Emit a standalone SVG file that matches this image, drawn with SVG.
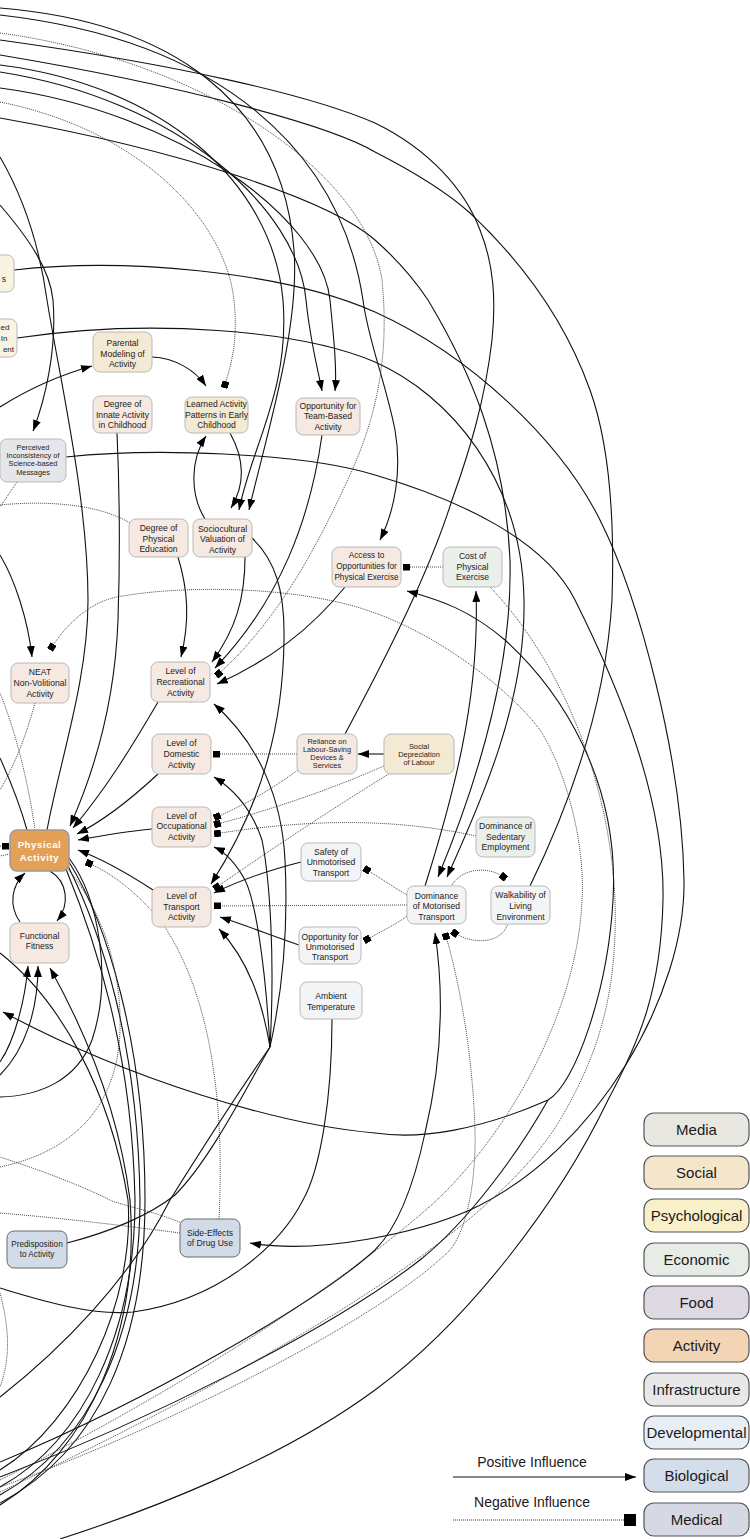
<svg xmlns="http://www.w3.org/2000/svg" width="750" height="1539" viewBox="0 0 750 1539">
<defs>
<marker id="ar" viewBox="0 0 11 8" refX="11" refY="4" markerWidth="11" markerHeight="8" markerUnits="userSpaceOnUse" orient="auto"><path d="M0,0 L11,4 L0,8 z" fill="#000"/></marker>
<marker id="arS" viewBox="0 0 11 8" refX="11" refY="4" markerWidth="11" markerHeight="8" markerUnits="userSpaceOnUse" orient="auto-start-reverse"><path d="M0,0 L11,4 L0,8 z" fill="#000"/></marker>
<marker id="sq" viewBox="0 0 7 7" refX="7" refY="3.5" markerWidth="7" markerHeight="7" markerUnits="userSpaceOnUse" orient="auto"><rect x="0" y="0" width="7" height="7" fill="#000"/></marker>
<style>
.p{fill:none;stroke:#111;stroke-width:1.1}
.d{fill:none;stroke:#333;stroke-width:0.9;stroke-dasharray:1 1}
.a{marker-end:url(#ar)}
.s{marker-end:url(#sq)}
.nd rect{stroke:#b9b9b9;stroke-width:1}
.nd text{font-family:"Liberation Sans",Arial,sans-serif;font-size:8.6px;fill:#222;text-anchor:middle}
.sm text{font-size:7.4px}
.soc{fill:#f4e9d2}.psy{fill:#f8f4e1}.act{fill:#f5e9e1}.med{fill:#e5e6ea}.eco{fill:#ebefea}.inf{fill:#f3f4f5}
.bio{fill:#d2dce8}
.lg rect{stroke:#555;stroke-width:1.2}
.lg text{font-family:"Liberation Sans",Arial,sans-serif;font-size:15px;fill:#1a1a1a;text-anchor:middle}
</style>
</defs>
<rect width="750" height="1539" fill="#fff"/>
<g id="connectors">
<path class="p a" d="M0,8 C170,22 282,100 294,250 C300,330 265,440 249,510"/>
<path class="p a" d="M0,65 C160,85 272,180 283,300 C290,390 252,445 239,510"/>
<path class="p a" d="M0,72 C180,100 298,210 306,300 C310,340 318,370 322,391"/>
<path class="p a" d="M0,88 C180,112 322,220 330,300 C334,340 337,370 335,391"/>
<path class="p" d="M0,40 C180,65 310,95 375,123 C430,150 465,190 480,230 C494,265 496,300 492,340 C485,400 470,450 452,500 C430,570 390,650 345,734"/>
<path class="p" d="M0,55 C180,85 330,125 375,152 C420,175 450,195 470,213 C520,260 565,320 590,390 C608,440 615,510 612,600 C606,700 572,800 530,886"/>
<path class="p a" d="M0,118 C180,150 330,200 375,240 C400,262 418,285 428,300 C470,370 505,450 510,560 C513,680 470,800 438,877"/>
<path class="p a" d="M17,338 C150,318 300,330 375,362 C450,395 522,480 524,600 C526,700 482,800 447,877"/>
<path class="p" d="M47,830 C60,760 88,680 88,600 C88,500 60,380 47,300 C40,250 25,200 0,157"/>
<path class="p a" d="M0,205 C30,240 50,270 53,300 C57,350 45,400 33,431"/>
<path class="p a" d="M14,270 C120,258 280,270 375,312 C470,355 560,440 600,520 C640,600 682,760 684,880 C686,990 600,1150 470,1210 C420,1232 320,1255 250,1243"/>
<path class="p" style="marker-start:url(#arS);marker-end:url(#ar)" d="M3,1012 C130,1080 280,1125 375,1133 C420,1140 480,1130 548,1100 C575,1085 608,990 613,900 C620,780 560,690 505,640 C470,610 440,600 407,591"/>
<path class="p" d="M66,457 C150,448 300,452 375,475 C460,500 545,540 575,600 C620,690 665,800 663,900 C661,990 640,1040 608,1100 C560,1200 470,1320 375,1390 C280,1460 150,1510 60,1539"/>
<path class="p a" d="M0,15 C220,40 340,150 363,300 C368,340 385,380 395,430 C402,470 395,510 380,540"/>
<path class="p a" d="M0,1462 C150,1400 320,1300 375,1250 C400,1225 415,1180 425,1133 C440,1070 445,1000 435,933"/>
<path class="p" d="M0,1477 C150,1420 330,1330 420,1260 C470,1220 520,1150 548,1100"/>
<path class="p a" d="M425,886 C452,800 480,700 476,591"/>
<path class="p" d="M67,1243 C110,1232 150,1215 175,1195 C210,1160 245,1090 270,1047"/>
<path class="p" d="M0,1397 C60,1350 130,1280 170,1200 C195,1160 240,1090 270,1047"/>
<path class="p a" d="M270,1047 C285,980 288,920 285,860 C282,800 260,745 214,704"/>
<path class="p a" d="M270,1047 C275,960 270,880 262,840 C252,810 235,790 214,777"/>
<path class="p a" d="M270,1047 C265,960 255,900 245,880 C235,862 225,852 214,847"/>
<path class="p a" d="M270,1047 C262,1000 248,960 219,929"/>
<path class="p a" d="M252,538 C275,560 285,590 284,640 C283,720 265,800 211,884"/>
<path class="p a" d="M245,557 C245,600 235,630 212,662"/>
<path class="p a" d="M322,435 C310,520 280,600 215,668"/>
<path class="p a" d="M345,587 C310,630 270,660 217,684"/>
<path class="p a" d="M178,557 C188,590 190,620 181,657"/>
<path class="p a" d="M152,357 C175,358 195,370 206,386"/>
<path class="p a" d="M0,407 C30,388 60,375 92,366"/>
<path class="p a" d="M230,433 C245,460 245,485 231,508"/>
<path class="p a" d="M205,519 C190,495 190,460 206,436"/>
<path class="p a" d="M117,433 C120,500 120,560 118,620 C115,700 95,770 70,826"/>
<path class="p a" d="M158,702 C130,750 105,790 73,828"/>
<path class="p a" d="M158,774 C130,800 105,820 77,834"/>
<path class="p a" d="M152,829 C130,831 105,835 78,840"/>
<path class="p a" d="M153,890 C130,875 105,860 78,850"/>
<path class="p a" d="M50,871 C68,882 70,905 57,921"/>
<path class="p a" d="M20,922 C8,905 12,885 25,873"/>
<path class="p a" d="M0,1062 C15,1040 25,1000 28,966"/>
<path class="p a" d="M0,1075 C25,1050 38,1010 38,966"/>
<path class="p a" d="M0,1505 C90,1450 140,1330 130,1200 C120,1120 90,1040 50,968"/>
<path class="p" d="M332,1019 C332,1100 320,1170 303,1200 C280,1245 220,1300 133,1312 C90,1316 40,1300 0,1288"/>
<path class="p a" d="M0,555 C15,580 28,620 32,657"/>
<path class="p" d="M27,830 C20,805 10,780 0,758"/>
<path class="p" d="M69,858 C100,900 112,980 92,1040 C77,1080 40,1096 0,1097"/>
<path class="p" d="M69,862 C105,920 145,1040 145,1200 C145,1340 100,1450 0,1503"/>
<path class="p" d="M68,866 C100,930 138,1040 140,1200 C140,1335 90,1445 0,1495"/>
<path class="p" d="M66,869 C95,940 132,1050 135,1200 C135,1330 85,1440 0,1487"/>
<path class="p" d="M0,953 C60,1000 110,1090 128,1200 C135,1300 80,1420 0,1470"/>
<path class="p a" d="M301,862 C270,870 240,880 214,893"/>
<path class="p a" d="M299,945 C270,935 245,925 220,917"/>
<path class="p a" d="M384,754 L358,754"/>
<path class="d s" d="M0,33 C200,60 365,170 382,280 C390,360 375,420 350,475 C320,540 280,620 216,676"/>
<path class="d s" d="M0,102 C140,130 225,220 234,300 C238,340 232,362 224,388"/>
<path class="d s" d="M443,567 L403,567"/>
<path class="d s" d="M297,754 L213,754"/>
<path class="d s" d="M298,770 C270,790 245,805 214,818"/>
<path class="d s" d="M386,765 C330,790 270,810 214,825"/>
<path class="d s" d="M476,836 C380,815 290,822 214,834"/>
<path class="d s" d="M392,772 C330,810 270,850 214,889"/>
<path class="d s" d="M407,905 L214,906"/>
<path class="d s" d="M407,895 C395,888 380,878 364,868"/>
<path class="d s" d="M407,916 C395,925 380,932 364,941"/>
<path class="d s" d="M452,885 C462,868 490,865 506,879"/>
<path class="d s" d="M508,923 C502,945 470,945 452,931"/>
<path class="d s" d="M0,1487 C160,1430 380,1320 450,1250 C470,1225 476,1170 475,1133 C474,1080 465,1000 445,933"/>
<path class="d s" d="M219,1219 C225,1100 210,990 160,920 C130,885 105,870 86,862"/>
<path class="d" d="M182,1223 C150,1210 120,1205 110,1200 C80,1185 40,1170 0,1157"/>
<path class="d" d="M180,1233 C120,1225 60,1218 0,1213"/>
<path class="d s" d="M0,1480 C200,1380 360,1270 437,1200 C520,1120 578,1000 582,900 C585,850 570,780 542,733 C520,700 450,640 375,613 C300,585 180,585 117,597 C90,602 65,625 50,650"/>
<path class="d" d="M35,703 C25,740 12,770 0,790"/>
<path class="d" d="M35,830 C28,780 15,730 0,693"/>
<path class="d s" d="M0,846 L9,846"/>
<path class="d" d="M10,854 L0,856"/>
<path class="d" d="M17,482 C10,492 5,500 0,507"/>
<path class="d" d="M130,523 C100,505 50,500 0,505"/>
<path class="d" d="M490,587 C560,660 610,780 615,900 C618,1000 595,1060 560,1120 C500,1220 320,1340 0,1492"/>
<path class="d" d="M67,868 C95,900 122,960 120,1030 C118,1100 80,1150 0,1167"/>
<path class="d" d="M0,1293 C10,1330 10,1360 0,1387"/>
</g>
<g id="n_s" class="nd"><rect class="psy" x="-20" y="255" width="34" height="37" rx="7"/><text x="6" y="282" style="text-anchor:end">s</text></g>
<g id="n_ed" class="nd"><rect class="psy" x="-40" y="319" width="57" height="38" rx="7"/><text style="text-anchor:end;font-size:8px"><tspan x="9.5" y="330">ed</tspan><tspan x="7.5" y="341">In</tspan><tspan x="14" y="352">ent</tspan></text></g>
<g id="n_parental" class="nd"><rect class="soc" x="93" y="332" width="59" height="40" rx="7"/><text><tspan x="122.5" y="346">Parental</tspan><tspan x="122.5" y="357">Modeling of</tspan><tspan x="122.5" y="367">Activity</tspan></text></g>
<g id="n_innate" class="nd"><rect class="act" x="93" y="396" width="59" height="37" rx="7"/><text><tspan x="122.5" y="407">Degree of</tspan><tspan x="122.5" y="418">Innate Activity</tspan><tspan x="122.5" y="428">in Childhood</tspan></text></g>
<g id="n_learned" class="nd"><rect class="soc" x="185" y="397" width="63" height="36" rx="7"/><text><tspan x="216.5" y="407">Learned Activity</tspan><tspan x="216.5" y="418">Patterns in Early</tspan><tspan x="216.5" y="428">Childhood</tspan></text></g>
<g id="n_team" class="nd"><rect class="act" x="296" y="398" width="64" height="37" rx="7"/><text><tspan x="328" y="409">Opportunity for</tspan><tspan x="328" y="419">Team-Based</tspan><tspan x="328" y="430">Activity</tspan></text></g>
<g id="n_perceived" class="nd sm"><rect class="med" x="0" y="439" width="66" height="43" rx="7"/><text><tspan x="33" y="450">Perceived</tspan><tspan x="33" y="458">Inconsistency of</tspan><tspan x="33" y="466">Science-based</tspan><tspan x="33" y="475">Messages</tspan></text></g>
<g id="n_pe" class="nd"><rect class="act" x="129" y="519" width="59" height="38" rx="7"/><text><tspan x="158.5" y="531">Degree of</tspan><tspan x="158.5" y="542">Physical</tspan><tspan x="158.5" y="552">Education</tspan></text></g>
<g id="n_socio" class="nd"><rect class="act" x="193" y="519" width="59" height="38" rx="7"/><text><tspan x="222.5" y="532">Sociocultural</tspan><tspan x="222.5" y="542">Valuation of</tspan><tspan x="222.5" y="553">Activity</tspan></text></g>
<g id="n_access" class="nd"><rect class="act" x="332" y="547" width="69" height="40" rx="7"/><text style="font-size:8.2px"><tspan x="366.5" y="558">Access to</tspan><tspan x="366.5" y="569">Opportunities for</tspan><tspan x="366.5" y="580">Physical Exercise</tspan></text></g>
<g id="n_cost" class="nd"><rect class="eco" x="443" y="547" width="59" height="40" rx="7"/><text><tspan x="472.5" y="559">Cost of</tspan><tspan x="472.5" y="570">Physical</tspan><tspan x="472.5" y="580">Exercise</tspan></text></g>
<g id="n_neat" class="nd"><rect class="act" x="11" y="663" width="58" height="40" rx="7"/><text><tspan x="40" y="675">NEAT</tspan><tspan x="40" y="686">Non-Volitional</tspan><tspan x="40" y="697">Activity</tspan></text></g>
<g id="n_recreational" class="nd"><rect class="act" x="151" y="662" width="59" height="40" rx="7"/><text><tspan x="180.5" y="674">Level of</tspan><tspan x="180.5" y="685">Recreational</tspan><tspan x="180.5" y="696">Activity</tspan></text></g>
<g id="n_domestic" class="nd"><rect class="act" x="152" y="734" width="59" height="40" rx="7"/><text><tspan x="181.5" y="746">Level of</tspan><tspan x="181.5" y="757">Domestic</tspan><tspan x="181.5" y="768">Activity</tspan></text></g>
<g id="n_reliance" class="nd sm"><rect class="act" x="297" y="734" width="60" height="40" rx="7"/><text><tspan x="327" y="744">Reliance on</tspan><tspan x="327" y="752">Labour-Saving</tspan><tspan x="327" y="760">Devices &amp;</tspan><tspan x="327" y="768">Services</tspan></text></g>
<g id="n_socdep" class="nd sm"><rect class="soc" x="384" y="734" width="70" height="40" rx="7"/><text><tspan x="419" y="749">Social</tspan><tspan x="419" y="757">Depreciation</tspan><tspan x="419" y="765">of Labour</tspan></text></g>
<g id="n_occupational" class="nd"><rect class="act" x="152" y="807" width="59" height="40" rx="7"/><text><tspan x="181.5" y="819">Level of</tspan><tspan x="181.5" y="829">Occupational</tspan><tspan x="181.5" y="840">Activity</tspan></text></g>
<g id="n_pa" class="nd"><rect x="10" y="830" width="59" height="41" rx="7" style="fill:#e4a056;stroke:#9a9a9a;stroke-width:1.4"/><text style="font-size:9.6px;font-weight:bold;fill:#fff;letter-spacing:0.6px"><tspan x="39.5" y="848">Physical</tspan><tspan x="39.5" y="861">Activity</tspan></text></g>
<g id="n_sedentary" class="nd"><rect class="eco" x="476" y="817" width="59" height="40" rx="7"/><text><tspan x="505.5" y="829">Dominance of</tspan><tspan x="505.5" y="840">Sedentary</tspan><tspan x="505.5" y="850">Employment</tspan></text></g>
<g id="n_safety" class="nd"><rect class="inf" x="301" y="843" width="60" height="38" rx="7"/><text><tspan x="331" y="855">Safety of</tspan><tspan x="331" y="865">Unmotorised</tspan><tspan x="331" y="876">Transport</tspan></text></g>
<g id="n_transport" class="nd"><rect class="act" x="152" y="887" width="59" height="40" rx="7"/><text><tspan x="181.5" y="899">Level of</tspan><tspan x="181.5" y="910">Transport</tspan><tspan x="181.5" y="920">Activity</tspan></text></g>
<g id="n_motorised" class="nd"><rect class="inf" x="407" y="886" width="59" height="38" rx="7"/><text><tspan x="436.5" y="899">Dominance</tspan><tspan x="436.5" y="909">of  Motorised</tspan><tspan x="436.5" y="920">Transport</tspan></text></g>
<g id="n_walkability" class="nd"><rect class="inf" x="491" y="886" width="59" height="38" rx="7"/><text><tspan x="520.5" y="898">Walkability of</tspan><tspan x="520.5" y="909">Living</tspan><tspan x="520.5" y="920">Environment</tspan></text></g>
<g id="n_fitness" class="nd"><rect class="act" x="10" y="923" width="59" height="40" rx="7"/><text><tspan x="39.5" y="939">Functional</tspan><tspan x="39.5" y="949">Fitness</tspan></text></g>
<g id="n_oppunmot" class="nd"><rect class="inf" x="299" y="927" width="62" height="37" rx="7"/><text><tspan x="330" y="940">Opportunity for</tspan><tspan x="330" y="950">Unmotorised</tspan><tspan x="330" y="960">Transport</tspan></text></g>
<g id="n_ambient" class="nd"><rect class="inf" x="300" y="982" width="62" height="37" rx="7"/><text><tspan x="331" y="999">Ambient</tspan><tspan x="331" y="1010">Temperature</tspan></text></g>
<g id="n_predisposition" class="nd"><rect class="bio" x="7" y="1231" width="60" height="37" rx="7" style="stroke:#6a6a6a"/><text style="font-size:8.2px"><tspan x="37" y="1247">Predisposition</tspan><tspan x="37" y="1257">to Activity</tspan></text></g>
<g id="n_sideeffects" class="nd"><rect class="bio" x="180" y="1219" width="60" height="38" rx="7" style="stroke:#6a6a6a"/><text><tspan x="210" y="1236">Side-Effects</tspan><tspan x="210" y="1246">of Drug Use</tspan></text></g>
<g id="legend" class="lg">
<rect x="644" y="1113" width="105" height="33" rx="10" fill="#e8e7e2"/><text x="696.5" y="1135">Media</text>
<rect x="644" y="1156" width="105" height="33" rx="10" fill="#f3e6cb"/><text x="696.5" y="1178">Social</text>
<rect x="644" y="1199" width="105" height="33" rx="10" fill="#f8f0c9"/><text x="696.5" y="1221">Psychological</text>
<rect x="644" y="1243" width="105" height="33" rx="10" fill="#e8ece6"/><text x="696.5" y="1265">Economic</text>
<rect x="644" y="1286" width="105" height="33" rx="10" fill="#ded8e3"/><text x="696.5" y="1308">Food</text>
<rect x="644" y="1329" width="105" height="33" rx="10" fill="#f3d4b4"/><text x="696.5" y="1351">Activity</text>
<rect x="644" y="1373" width="105" height="33" rx="10" fill="#e8e8e9"/><text x="696.5" y="1395">Infrastructure</text>
<rect x="644" y="1416" width="105" height="33" rx="10" fill="#e8eef5"/><text x="696.5" y="1438">Developmental</text>
<rect x="644" y="1459" width="105" height="33" rx="10" fill="#d4deea"/><text x="696.5" y="1481">Biological</text>
<rect x="644" y="1503" width="105" height="33" rx="10" fill="#d6d9e3"/><text x="696.5" y="1525">Medical</text>
<text x="532" y="1467" style="font-size:14px">Positive Influence</text>
<text x="532" y="1507" style="font-size:14px">Negative Influence</text>
<path d="M453,1477 L636,1477" style="fill:none;stroke:#111;stroke-width:1.1" marker-end="url(#ar)"/>
<path d="M453,1520 L624,1520" style="fill:none;stroke:#333;stroke-width:1;stroke-dasharray:1 1"/>
<rect x="624" y="1514" width="12" height="12" fill="#000" style="stroke:none"/>
</g>
</svg>
